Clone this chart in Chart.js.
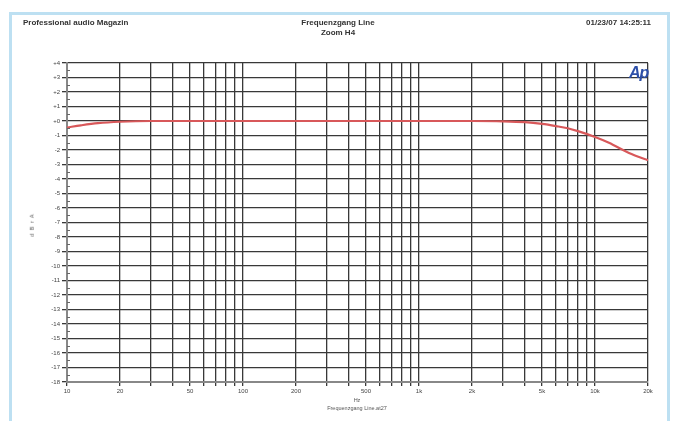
<!DOCTYPE html>
<html><head><meta charset="utf-8">
<script src="https://cdn.jsdelivr.net/npm/chart.js@4/dist/chart.umd.min.js"></script>
<style>
html,body{margin:0;padding:0;background:#fff;width:673px;height:421px;overflow:hidden;font-family:"Liberation Sans",Arial,sans-serif;}
#frame{position:absolute;left:9px;top:12px;width:655px;height:420px;border:3px solid #bde0f2;border-bottom:none;}
.t{position:absolute;font-size:8px;color:#333;font-weight:bold;white-space:nowrap;}
.s{position:absolute;font-size:5.5px;color:#555;white-space:nowrap;}
canvas{position:absolute;left:0;top:0;}
#ap{position:absolute;left:629px;top:64px;font:italic bold 16px "Liberation Sans",Arial,sans-serif;color:#2d4fa8;letter-spacing:-1px;}
</style></head><body>
<div id="frame"></div>
<canvas id="c" width="673" height="421"></canvas>
<div class="t" style="left:23px;top:18px">Professional audio Magazin</div>
<div class="t" style="left:338px;top:18px;transform:translateX(-50%);text-align:center;line-height:10px">Frequenzgang Line<br>Zoom H4</div>
<div class="t" style="right:22px;top:18px">01/23/07 14:25:11</div>
<div id="ap">Ap</div>
<div class="s" style="left:20px;top:222px;transform:rotate(-90deg);transform-origin:center;letter-spacing:1px">d B r A</div>
<div class="s" style="left:357px;top:396px;transform:translateX(-50%);text-align:center;line-height:8px">Hz<br>Frequenzgang Line.at27</div>
<script>
// Data
const freqHz  = [10, 12, 15, 20, 30, 50, 100, 200, 500, 1000, 2000, 3000, 4000, 5000, 6000, 7000, 8000, 10000, 12000, 15000, 17000, 20000];
const levelDb = [-0.45, -0.3, -0.15, -0.05, 0, 0, 0, 0, 0, 0, 0, -0.02, -0.08, -0.2, -0.35, -0.5, -0.7, -1.1, -1.5, -2.1, -2.4, -2.7];

const xTickValues = [10, 20, 50, 100, 200, 500, 1000, 2000, 5000, 10000, 20000];
const xTickLabels = ['10', '20', '50', '100', '200', '500', '1k', '2k', '5k', '10k', '20k'];
const yTickValues = [4, 3, 2, 1, 0, -1, -2, -3, -4, -5, -6, -7, -8, -9, -10, -11, -12, -13, -14, -15, -16, -17, -18];
const yTickLabels = ['+4', '+3', '+2', '+1', '+0', '-1', '-2', '-3', '-4', '-5', '-6', '-7', '-8', '-9', '-10', '-11', '-12', '-13', '-14', '-15', '-16', '-17', '-18'];

const xGrid = [];
for (let d = 10; d <= 10000; d *= 10) for (let m = 1; m <= 9; m++) { const v = d * m; if (v <= 20000) xGrid.push(v); }
xGrid.push(20000);
const xGridUnique = [...new Set(xGrid)];

const minorTicks = {
  id: 'minorTicks',
  afterDraw(chart) {
    const {ctx, scales: {y}, chartArea} = chart;
    ctx.save();
    ctx.strokeStyle = '#666';
    ctx.lineWidth = 1;
    for (let i = 0; i < yTickValues.length - 1; i++) {
      const v = (yTickValues[i] + yTickValues[i + 1]) / 2;
      const py = Math.round(y.getPixelForValue(v)) + 0.5;
      ctx.beginPath();
      ctx.moveTo(chartArea.left, py);
      ctx.lineTo(chartArea.left + 3, py);
      ctx.stroke();
    }
    ctx.restore();
  }
};

new Chart(document.getElementById('c'), {
  type: 'line',
  data: {
    datasets: [{
      data: freqHz.map((f, i) => ({x: f, y: levelDb[i]})),
      borderColor: '#d8585a',
      borderWidth: 2.2,
      pointRadius: 0,
      cubicInterpolationMode: 'monotone',
      fill: false
    }]
  },
  options: {
    responsive: false,
    animation: false,
    devicePixelRatio: 1,
    layout: {padding: {left: 0, top: 63, right: 25, bottom: 0}},
    plugins: {legend: {display: false}, tooltip: {enabled: false}},
    scales: {
      x: {
        type: 'logarithmic',
        min: 10, max: 20000,
        afterFit(s) { s.height = 39; },
        afterBuildTicks(s) { s.ticks = xGridUnique.map(v => ({value: v})); },
        grid: {color: '#383838', lineWidth: 1.3, tickLength: 4, drawTicks: true},
        border: {color: '#888', width: 2},
        ticks: {
          autoSkip: false, maxRotation: 0, padding: 2,
          font: {size: 6, family: 'Liberation Sans'}, color: '#444',
          callback(v) { const i = xTickValues.indexOf(v); return i >= 0 ? xTickLabels[i] : ''; }
        }
      },
      y: {
        min: -18, max: 4,
        afterFit(s) { s.width = 67; },
        afterBuildTicks(s) { s.ticks = yTickValues.map(v => ({value: v})); },
        grid: {color: '#383838', lineWidth: 1.3, tickLength: 5},
        border: {color: '#888', width: 2},
        ticks: {
          autoSkip: false, padding: 2,
          font: {size: 6, family: 'Liberation Sans'}, color: '#444',
          callback(v) { const i = yTickValues.indexOf(v); return i >= 0 ? yTickLabels[i] : ''; }
        }
      }
    }
  },
  plugins: [minorTicks]
});
</script>
</body></html>
